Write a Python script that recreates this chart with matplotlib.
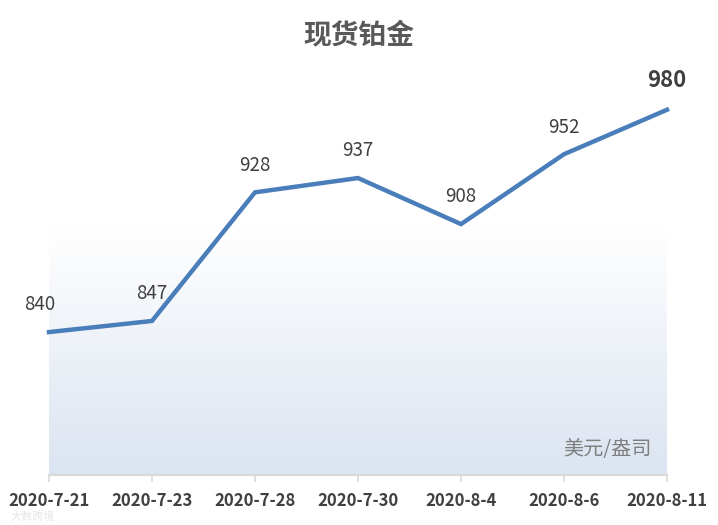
import matplotlib
matplotlib.use("Agg")
import matplotlib.pyplot as plt
import numpy as np
from matplotlib.colors import LinearSegmentedColormap

plt.rcParams['font.family'] = ['Noto Sans CJK SC', 'DejaVu Sans']

dates = ["2020-7-21", "2020-7-23", "2020-7-28", "2020-7-30", "2020-8-4", "2020-8-6", "2020-8-11"]
prices = [840, 847, 928, 937, 908, 952, 980]
title = "现货铂金"
unit = "美元/盎司"

fig = plt.figure(figsize=(7.18, 5.25), dpi=100)
ax = fig.add_axes([49/718, 1 - 475/525, (667-49)/718, (475-78)/525])
ymin, ymax = 750, 1000
x = np.arange(len(dates))
ax.set_xlim(0, len(dates) - 1)
ax.set_ylim(ymin, ymax)

# gradient background
grad = np.linspace(0, 1, 256).reshape(-1, 1)
cmap = LinearSegmentedColormap.from_list("g", ["#dbe4f1", "#ffffff"])
ax.imshow(grad, aspect='auto', cmap=cmap, origin='lower',
          extent=[0, len(dates) - 1, ymin, 905], zorder=0)

ax.plot(x, prices, color="#4a7ebb", lw=3.2, solid_joinstyle='miter', zorder=3, clip_on=False)

for i, v in enumerate(prices):
    if i == len(prices) - 1:
        ax.annotate(str(v), (i, v), xytext=(0, 13), textcoords='offset points',
                    ha='center', va='bottom', fontsize=16, fontweight='bold', color='#404040')
    else:
        ax.annotate(str(v), (i, v), xytext=(-7 if i == 0 else 0, 12), textcoords='offset points',
                    ha='center', va='bottom', fontsize=13.5, color='#404040')

for s in ['top', 'right', 'left']:
    ax.spines[s].set_visible(False)
ax.spines['bottom'].set_color('#d9d9d9')
ax.spines['bottom'].set_linewidth(1.5)
ax.set_yticks([])
ax.set_xticks(x)
ax.set_xticklabels(dates, fontsize=12, fontweight='bold', color='#404040')
ax.tick_params(axis='x', length=5, color='#d9d9d9', width=1.2, pad=7)

ax.text(0.975, 0.065, unit, transform=ax.transAxes, ha='right', va='center',
        fontsize=14.5, color='#7f7f7f')

fig.text(0.5, 1 - 35/525, title, ha='center', va='center', fontsize=20,
         fontweight='bold', color='#595959')
fig.text(10/718, 1 - 517/525, "大数跨境", ha='left', va='center', fontsize=8, color='#e6e6e6')

fig.savefig("out.png", dpi=100)
